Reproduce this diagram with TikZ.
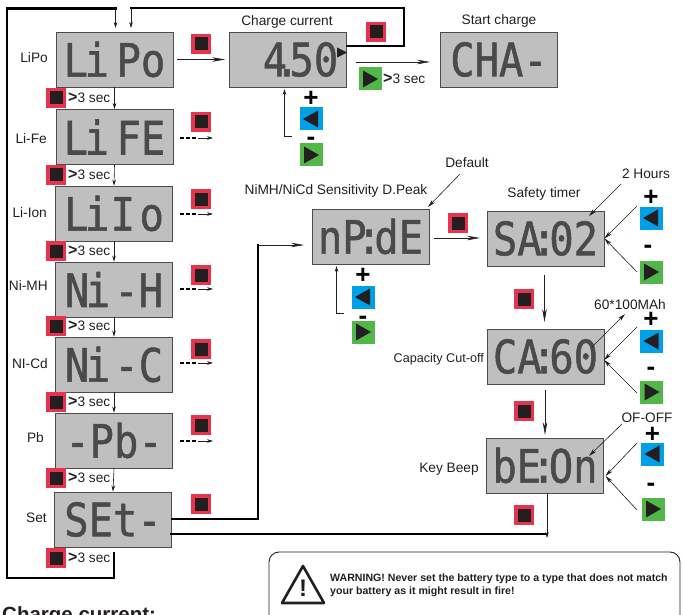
\documentclass[tikz,border=0pt]{standalone}
\usepackage{fontspec}
\setmainfont{Liberation Sans}
\newfontfamily\lcdfont[FakeBold=1.2]{DejaVu Sans Mono}
\usetikzlibrary{arrows.meta}
\definecolor{lcdgrey}{HTML}{BFBFBF}
\definecolor{lcdink}{HTML}{4A4A4A}
\definecolor{btnred}{HTML}{E8334F}
\definecolor{btnblue}{HTML}{00A0E9}
\definecolor{btngreen}{HTML}{50B748}
\definecolor{btnink}{HTML}{231F20}
\newcommand{\lcd}[1]{\scalebox{.88}[1]{\lcdfont\fontsize{46}{46}\selectfont #1}}
\newcommand{\gthree}{{\bfseries\fontsize{16}{16}\selectfont >}3 sec}
\tikzset{
  lcdbox/.style={draw=black!70,line width=.8pt,fill=lcdgrey,text=lcdink,minimum width=117,minimum height=55,inner sep=0pt},
  redbtn/.style={fill=btnred,minimum size=20,inner sep=0pt,path picture={\fill[btnink,shift={(path picture bounding box.center)}] (-6.5,-6.5) rectangle (6.5,6.5);}},
  bluebtn/.style={fill=btnblue,minimum size=23,inner sep=0pt,path picture={\fill[btnink,shift={(path picture bounding box.center)}] (7,-8.5) -- (7,8.5) -- (-8,0) -- cycle;}},
  greenbtn/.style={fill=btngreen,minimum size=23,inner sep=0pt,path picture={\fill[btnink,shift={(path picture bounding box.center)}] (-7,-8.5) -- (-7,8.5) -- (8,0) -- cycle;}},
  label/.style={font=\fontsize{13.7}{15}\selectfont,text=btnink,inner sep=0pt},
  sign/.style={font=\bfseries\fontsize{26}{26}\selectfont,text=black,inner sep=0pt},
  thickline/.style={line width=2.3pt,black,line cap=rect},
  stepto/.style={line width=.6pt,btnink,-{Stealth[length=6,width=3.6]}},
  slantto/.style={line width=.6pt,btnink,-{Stealth[length=8,width=4]}},
  flowto/.style={line width=.6pt,btnink,-{Stealth[length=13,width=4.5]}},
  dashlink/.style={line width=1.5pt,black,dash pattern=on 4pt off 2.2pt},
}
\begin{document}
\begin{tikzpicture}
[x=1pt,y=-1pt]
\useasboundingbox (0,0) rectangle (683,615);
% left column
\node[lcdbox] (lipo) at (114.5,59.5) {\lcd{L\hspace{-4pt}i\hspace{-19pt} Po}};
\node[lcdbox] (life) at (114.5,137) {\lcd{L\hspace{-4pt}i\hspace{-19pt} FE}};
\node[lcdbox] (liion) at (114,213.5) {\lcd{L\hspace{-4pt}i\hspace{-26pt} I\hspace{5pt}o}};
\node[lcdbox] (nimh) at (114,289.5) {\lcd{N\hspace{-4pt}i\hspace{-23pt} -H}};
\node[lcdbox] (nicd) at (114,364.5) {\lcd{N\hspace{-4pt}i\hspace{-23pt} -C}};
\node[lcdbox] (pb) at (114,440.5) {\lcd{-Pb-}};
\node[lcdbox] (set) at (113,519.5) {\lcd{SEt-}};
\node[label,anchor=east] (lbllipo) at (48,58) {LiPo};
\node[label,anchor=east] (lbllife) at (47,139) {Li-Fe};
\node[label,anchor=east] (lblliion) at (47,213) {Li-Ion};
\node[label,anchor=east] (lblnimh) at (48,286) {Ni-MH};
\node[label,anchor=east] (lblnicd) at (48,364) {NI-Cd};
\node[label,anchor=east] (lblpb) at (44,438) {Pb};
\node[label,anchor=east] (lblset) at (47,518) {Set};
% next type buttons
\node[redbtn] (nlipo) at (56,98) {};
\node[redbtn] (nlife) at (56,175) {};
\node[redbtn] (nliion) at (56,251) {};
\node[redbtn] (nnimh) at (56,326) {};
\node[redbtn] (nnicd) at (56,402) {};
\node[redbtn] (npb) at (56,478) {};
\node[redbtn] (nset) at (56,558) {};
\node[label,anchor=west] (tlipo) at (68,98) {\gthree};
\node[label,anchor=west] (tlife) at (68,175) {\gthree};
\node[label,anchor=west] (tliion) at (68,251) {\gthree};
\node[label,anchor=west] (tnimh) at (68,326) {\gthree};
\node[label,anchor=west] (tnicd) at (68,402) {\gthree};
\node[label,anchor=west] (tpb) at (68,478) {\gthree};
\node[label,anchor=west] (tset) at (68,558) {\gthree};
\draw[stepto] (lipo.south) -- (life.north);
\draw[stepto] (life.south) -- (liion.north);
\draw[stepto] (liion.south) -- (nimh.north);
\draw[stepto] (nimh.south) -- (nicd.north);
\draw[stepto] (nicd.south) -- (pb.north);
\draw[stepto] (pb.south) -- (set.north);
% enter buttons
\node[redbtn] (elipo) at (201,44) {};
\node[redbtn] (elife) at (201,122) {};
\node[redbtn] (eliion) at (201,199) {};
\node[redbtn] (enimh) at (201,275) {};
\node[redbtn] (enicd) at (201,349) {};
\node[redbtn] (epb) at (201,425) {};
\node[redbtn] (eset) at (201,504) {};
\coordinate (fea) at (180,138); \coordinate (feb) at (198,138); \coordinate (fec) at (213,138);
\coordinate (ioa) at (180,214); \coordinate (iob) at (198,214); \coordinate (ioc) at (213,214);
\coordinate (mha) at (180,289); \coordinate (mhb) at (198,289); \coordinate (mhc) at (213,289);
\coordinate (cda) at (180,363); \coordinate (cdb) at (198,363); \coordinate (cdc) at (213,363);
\coordinate (pba) at (180,441); \coordinate (pbb) at (198,441); \coordinate (pbc) at (213,441);
\draw[dashlink] (fea) -- (feb);
\draw[stepto] (feb) -- (fec);
\draw[dashlink] (ioa) -- (iob);
\draw[stepto] (iob) -- (ioc);
\draw[dashlink] (mha) -- (mhb);
\draw[stepto] (mhb) -- (mhc);
\draw[dashlink] (cda) -- (cdb);
\draw[stepto] (cdb) -- (cdc);
\draw[dashlink] (pba) -- (pbb);
\draw[stepto] (pbb) -- (pbc);
% charge current row
\node[lcdbox] (charge) at (288,59.5) {\hspace*{25pt}\lcd{4\hspace{-14pt}.\hspace{-11pt}50}};
\node[lcdbox] (start) at (499,59.5) {\lcd{CHA-}};
\node[label] (lblcharge) at (287,22) {Charge current};
\node[label] (lblstart) at (499,21) {Start charge};
\node[redbtn] (backbtn) at (376,32) {};
\node[greenbtn] (gostart) at (370,79) {};
\node[label,anchor=west] (tgo) at (383,79) {\gthree};
\node[sign] (plusc) at (311,98.5) {+};
\node[bluebtn] (bluec) at (311,119) {};
\node[sign] (minusc) at (311,141) {-};
\node[greenbtn] (greenc) at (311,155) {};
\fill[btnink] (337,47.5) -- (347,52.5) -- (337,57.5) -- cycle;
\coordinate (chgout) at (356,62);
\coordinate (chgin) at (430,62);
\coordinate (chgstep) at (292,136.5);
\coordinate (chgup) at (284.5,89);
\draw[flowto,shorten >=4pt,shorten <=4pt] (lipo) -- (charge);
\draw[flowto] (chgout) -- (chgin);
\draw[stepto] (chgstep) -- (chgup |- chgstep) -- (chgup);
% loops
\coordinate (setend) at (114,553);
\coordinate (topa) at (115.5,8.5);
\coordinate (topb) at (131,8);
\coordinate (lipoa) at (115.5,28);
\coordinate (lipob) at (131,28);
\draw[thickline] (setend) -- (114,578) -- (7,578) -- (7,8.5) -- (topa);
\draw[stepto] (topa) -- (lipoa);
\draw[thickline] (charge.east |- 0,46) -- (404,46) -- (404,8) -- (topb);
\draw[stepto] (topb) -- (lipob);
% sensitivity
\node[lcdbox] (npde) at (370.5,236.5) {\lcd{nP\hspace{-11pt}:\hspace{-8pt}dE}};
\node[label] (lblnp) at (336,191) {NiMH/NiCd Sensitivity D.Peak};
\node[label] (lbldef) at (467,163) {Default};
\coordinate (defa) at (460,174);
\coordinate (defb) at (428,207);
\draw[slantto] (defa) -- (defb);
\node[redbtn] (entnp) at (458,223) {};
\node[sign] (plusn) at (363,275.5) {+};
\node[bluebtn] (bluen) at (363,297) {};
\node[sign] (minusn) at (363,320) {-};
\node[greenbtn] (greenn) at (363,332) {};
\coordinate (npstep) at (344,313.5);
\coordinate (npup) at (336.5,266);
\draw[stepto] (npstep) -- (npup |- npstep) -- (npup);
\coordinate (setmid) at (258,245);
\coordinate (npin) at (304,245);
\draw[thickline] (set.east |- 0,519) -- (258,519) -- (setmid);
\draw[flowto] (setmid) -- (npin);
% safety timer
\node[lcdbox] (safe) at (545.5,238.5) {\lcd{SA\hspace{-11pt}:\hspace{-8pt}02}};
\node[lcdbox] (cap) at (545.5,356.5) {\lcd{CA\hspace{-11pt}:\hspace{-8pt}60}};
\node[lcdbox] (beep) at (545,465.5) {\lcd{bE\hspace{-11pt}:\hspace{-8pt}On}};
\node[label] (lblsafe) at (544,194) {Safety timer};
\node[label] (lblhours) at (646,174) {2 Hours};
\node[label,font=\fontsize{12.6}{14}\selectfont,anchor=east] (lblcap) at (484,359) {Capacity Cut-off};
\node[label] (lblbeep) at (449,469) {Key Beep};
\node[label] (lblmah) at (630,305) {60*100MAh};
\node[label] (lbloff) at (647,418) {OF-OFF};
\node[redbtn] (entsafe) at (524,299) {};
\node[redbtn] (entcap) at (524,411) {};
\node[redbtn] (entbeep) at (524,515) {};
\node[sign] (pluss) at (651,197.5) {+};
\node[bluebtn] (blues) at (651,218) {};
\node[sign] (minuss) at (648,249) {-};
\node[greenbtn] (greens) at (651,272) {};
\node[sign] (plusp) at (651,319.5) {+};
\node[bluebtn] (bluep) at (651.5,341) {};
\node[sign] (minusp) at (651,371) {-};
\node[greenbtn] (greenp) at (651.5,392) {};
\node[sign] (plusb) at (652.5,434.5) {+};
\node[bluebtn] (blueb) at (652.5,454) {};
\node[sign] (minusb) at (651,487) {-};
\node[greenbtn] (greenb) at (653,509) {};
\coordinate (nporight) at (434,238);
\coordinate (safeleft) at (480,238);
\draw[flowto] (nporight) -- (safeleft);
\coordinate (safebot) at (544.5,275);
\coordinate (captop) at (544.5,322);
\draw[flowto] (safebot) -- (captop);
\coordinate (capbot) at (545,390);
\coordinate (beeptop) at (545,435);
\draw[flowto] (capbot) -- (beeptop);
\coordinate (hoursa) at (621,184);
\coordinate (hoursb) at (589,216);
\draw[slantto] (hoursa) -- (hoursb);
\coordinate (blsa) at (637,206);
\coordinate (grsa) at (637,272);
\draw[slantto] (blsa) -- (safe.east);
\draw[slantto] (grsa) -- (safe.east);
\coordinate (maha) at (592,347);
\coordinate (mahb) at (625,314);
\draw[slantto] (maha) -- (mahb);
\coordinate (blpa) at (637,327);
\coordinate (grpa) at (637,393);
\coordinate (capin) at (604,360);
\draw[slantto] (blpa) -- (capin);
\draw[slantto] (grpa) -- (capin);
\coordinate (offa) at (622,424);
\coordinate (offb) at (589,456);
\draw[slantto] (offa) -- (offb);
\coordinate (blba) at (637,443);
\coordinate (grba) at (637,510);
\coordinate (beepin) at (605.5,476);
\draw[slantto] (blba) -- (beepin);
\draw[slantto] (grba) -- (beepin);
\coordinate (setlow) at (171,534);
\coordinate (beeplow) at (547,534);
\coordinate (beepout) at (547,538);
\draw[thickline] (setlow) -- (beeplow);
\draw[stepto] (beep.south -| beeplow) -- (beepout);
% warning
\draw[line width=.9pt,btnink,rounded corners=10pt] (269,625) rectangle (680,552);
\draw[line width=2.6pt,btnink,line join=round] (303,566) -- (324,603) -- (282,603) -- cycle;
\node[inner sep=0pt,font=\bfseries\fontsize{24}{24}\selectfont,text=btnink] (warnmark) at (303,588) {!};
\node[anchor=west,inner sep=0pt,align=left,text=btnink,font=\bfseries\fontsize{10.6}{13}\selectfont] (warntext) at (330,585.5) {WARNING! Never set the battery type to a type that does not match\\your battery as it might result in fire!};
\node[anchor=base west,inner sep=0pt,text=btnink,font=\bfseries\fontsize{20.5}{22}\selectfont] (chargehead) at (2,621) {Charge current:};
\end{tikzpicture}
\end{document}
